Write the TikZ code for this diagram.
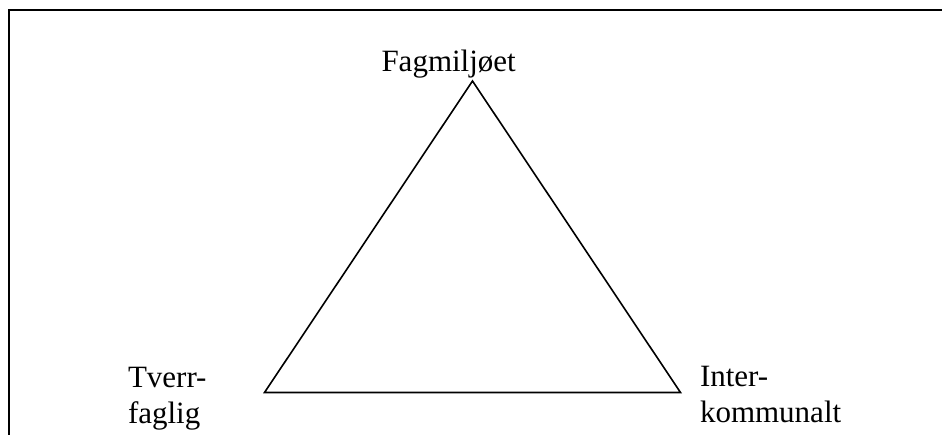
\documentclass[tikz,border=0pt]{standalone}
\usepackage{fontspec}
\setmainfont{Liberation Serif}
\begin{document}
\begin{tikzpicture}[x=1pt,y=-1pt,
  lbl/.style={inner sep=0pt,outer sep=0pt,font=\fontsize{31}{36}\selectfont},
  tri/.style={line width=1.6pt,line join=miter},
  frame/.style={line width=2pt}]
\useasboundingbox (0,0) rectangle (942,434);
\coordinate (fbl) at (8.5,440);
\coordinate (ftl) at (8.5,9.5);
\coordinate (ftr) at (950,9.5);
\draw[frame] (fbl) -- (ftl) -- (ftr);
\coordinate (top) at (472.5,81);
\coordinate (bl) at (264.5,392.5);
\coordinate (br) at (680.5,392.5);
\draw[tri] (top) -- (bl) -- (br) -- cycle;
\node[lbl,anchor=base west] (fag) at (381.5,71.5) {Fagmiljøet};
\node[lbl,anchor=base west] (tv1) at (128,387) {Tverr-};
\node[lbl,anchor=base west] (tv2) at (128,423) {faglig};
\node[lbl,anchor=base west] (in1) at (700,386) {Inter-};
\node[lbl,anchor=base west] (in2) at (700,422) {kommunalt};
\end{tikzpicture}
\end{document}
